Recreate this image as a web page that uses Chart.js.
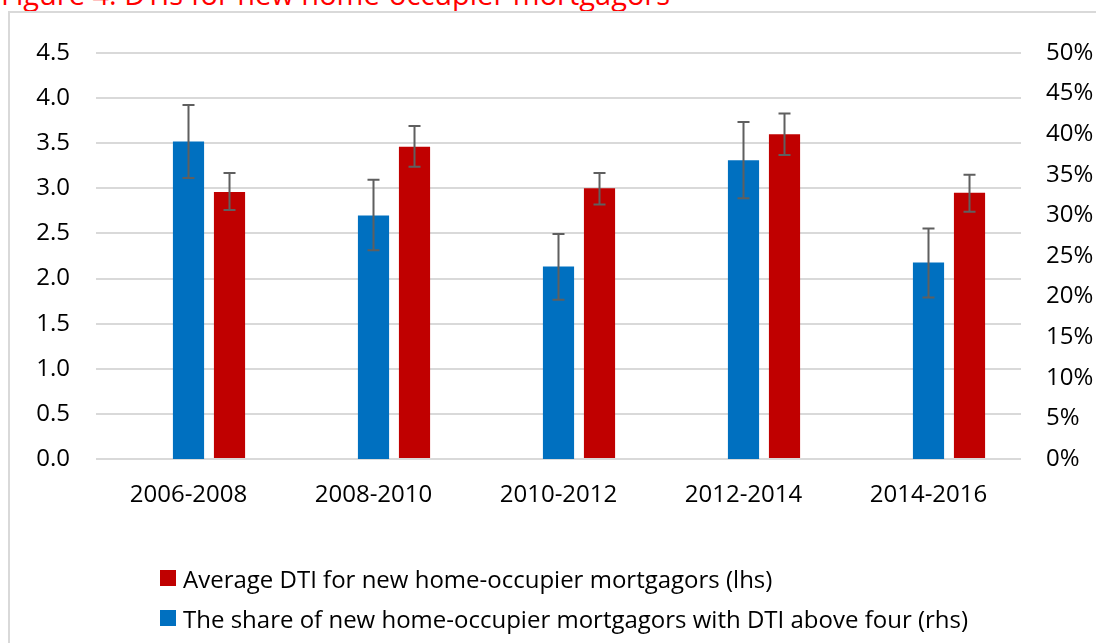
<!DOCTYPE html>
<html>
<head>
<meta charset="utf-8">
<script src="https://cdn.jsdelivr.net/npm/chart.js@4"></script>
<style>
    html, body { margin: 0; padding: 0; background: #fff; overflow: hidden; }
    body { width: 1096px; height: 643px; position: relative; font-family: "Open Sans", sans-serif; }
    .title { position: absolute; left: 1px; top: -26px; color: #ff0000; font-size: 29px; line-height: 40px; white-space: nowrap; }
    .frame { position: absolute; left: 8px; top: 11px; width: 1200px; height: 700px; border: 2px solid #d9d9d9; }
    .wrap { position: absolute; left: 0; top: 0; width: 1096px; height: 643px; }
    #legend { position: absolute; left: 160px; top: 558px; font-size: 24px; color: #000; }
    #legend .row { display: flex; align-items: center; height: 40px; white-space: nowrap; }
    #legend .box { width: 16px; height: 16px; margin-right: 7px; }
</style>
</head>
<body>
<div class="title">Figure 4: DTIs for new home-occupier mortgagors</div>
<div class="frame"></div>
<div class="wrap"><canvas id="dtiChart"></canvas></div>
<div id="legend"></div>

<script>
// periods on the x axis
const periods = ['2006-2008', '2008-2010', '2010-2012', '2012-2014', '2014-2016'];

// average DTI (lhs) with error range
const dtiAvg  = [2.96, 3.46, 3.00, 3.60, 2.95];
const dtiLow  = [2.76, 3.24, 2.82, 3.37, 2.74];
const dtiHigh = [3.17, 3.69, 3.17, 3.83, 3.15];

// share with DTI above four, % (rhs) with error range
const shareAbove4 = [39.1, 30.0, 23.7, 36.8, 24.2];
const shareLow    = [34.6, 25.7, 19.6, 32.1, 19.9];
const shareHigh   = [43.6, 34.4, 27.7, 41.5, 28.4];

const BLUE = '#0070c0';
const RED = '#c00000';
const FONT = { family: '"Open Sans", sans-serif', size: 24 };

// draws the whiskers for any dataset that carries errLow / errHigh
const errorBars = {
    id: 'errorBars',
    afterDatasetsDraw(chart) {
        const ctx = chart.ctx;
        chart.data.datasets.forEach((ds, i) => {
            if (!ds.errLow) return;
            const meta = chart.getDatasetMeta(i);
            const scale = chart.scales[ds.yAxisID];
            meta.data.forEach((bar, j) => {
                const yLo = scale.getPixelForValue(ds.errLow[j]);
                const yHi = scale.getPixelForValue(ds.errHigh[j]);
                ctx.save();
                ctx.strokeStyle = '#5f5f5f';
                ctx.lineWidth = 2;
                ctx.beginPath();
                ctx.moveTo(bar.x, yLo);
                ctx.lineTo(bar.x, yHi);
                ctx.moveTo(bar.x - 6, yLo);
                ctx.lineTo(bar.x + 6, yLo);
                ctx.moveTo(bar.x - 6, yHi);
                ctx.lineTo(bar.x + 6, yHi);
                ctx.stroke();
                ctx.restore();
            });
        });
    }
};

const chart = new Chart(document.getElementById('dtiChart'), {
    type: 'bar',
    data: {
        labels: periods,
        datasets: [
            // empty slot so the blue bar sits on the category centre (as in the Excel original)
            { label: '', data: periods.map(() => null), yAxisID: 'y' },
            {
                label: 'The share of new home-occupier mortgagors with DTI above four (rhs)',
                data: shareAbove4, errLow: shareLow, errHigh: shareHigh,
                backgroundColor: BLUE, yAxisID: 'y2'
            },
            {
                label: 'Average DTI for new home-occupier mortgagors (lhs)',
                data: dtiAvg, errLow: dtiLow, errHigh: dtiHigh,
                backgroundColor: RED, yAxisID: 'y'
            }
        ]
    },
    options: {
        responsive: true,
        maintainAspectRatio: false,
        animation: false,
        layout: { padding: { top: 53, left: 0, right: 0, bottom: 0 } },
        datasets: { bar: { categoryPercentage: 0.665, barPercentage: 0.76 } },
        plugins: { legend: { display: false }, tooltip: { enabled: false } },
        scales: {
            x: {
                grid: { display: false },
                border: { display: false },
                ticks: { color: '#000', font: FONT, padding: 14, maxRotation: 0 },
                afterFit: s => { s.height = 184; }
            },
            y: {
                position: 'left',
                min: 0, max: 4.5,
                grid: { color: '#d9d9d9', lineWidth: 2, drawTicks: false },
                border: { display: false },
                ticks: { stepSize: 0.5, color: '#000', font: FONT, padding: 26, callback: v => v.toFixed(1) },
                afterFit: s => { s.width = 96; }
            },
            y2: {
                position: 'right',
                min: 0, max: 50,
                grid: { display: false, drawTicks: false },
                border: { display: false },
                ticks: { stepSize: 5, color: '#000', font: FONT, padding: 25, callback: v => v + '%' },
                afterFit: s => { s.width = 75; }
            }
        }
    },
    plugins: [errorBars]
});

// legend: lhs series first, one per row, left aligned
const legend = document.getElementById('legend');
legend.innerHTML = [2, 1].map(i => {
    const ds = chart.data.datasets[i];
    return `<div class="row"><span class="box" style="background:${ds.backgroundColor}"></span>${ds.label}</div>`;
}).join('');
</script>
</body>
</html>
